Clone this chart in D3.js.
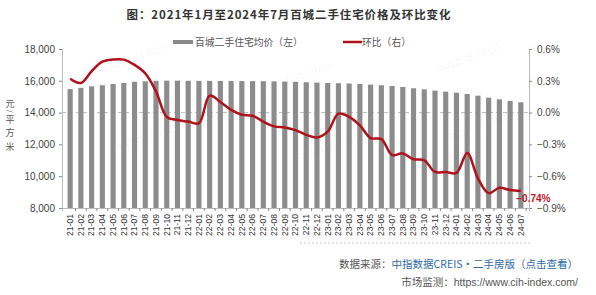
<!DOCTYPE html>
<html>
<head>
<meta charset="utf-8">
<script src="https://cdn.jsdelivr.net/npm/d3@7"></script>
<style>
  body { margin: 0; background: #fff; }
  text { font-family: "Liberation Sans", Arial, "Noto Sans CJK SC", sans-serif; }
  .cn { font-family: "Noto Sans CJK SC", sans-serif; }
</style>
</head>
<body>
<div id="chart"></div>
<script>
// data
var months = ["21-01","21-02","21-03","21-04","21-05","21-06","21-07","21-08","21-09","21-10","21-11","21-12",
              "22-01","22-02","22-03","22-04","22-05","22-06","22-07","22-08","22-09","22-10","22-11","22-12",
              "23-01","23-02","23-03","23-04","23-05","23-06","23-07","23-08","23-09","23-10","23-11","23-12",
              "24-01","24-02","24-03","24-04","24-05","24-06","24-07"];
var prices = [15480,15560,15650,15720,15800,15860,15940,15970,16000,16010,16010,16000,
              15995,15995,15990,15990,15985,15980,15975,15965,15950,15935,15910,15885,
              15860,15845,15830,15800,15760,15720,15675,15610,15530,15465,15380,15315,
              15250,15170,15065,14940,14835,14730,14650];
var mom = [0.32,0.28,0.39,0.48,0.50,0.50,0.45,0.37,0.20,-0.04,-0.07,-0.085,
           -0.10,0.16,0.10,0.025,-0.02,-0.03,-0.085,-0.13,-0.14,-0.165,-0.21,-0.235,
           -0.18,-0.01,-0.04,-0.12,-0.24,-0.25,-0.40,-0.385,-0.44,-0.45,-0.56,-0.56,
           -0.57,-0.38,-0.62,-0.76,-0.71,-0.73,-0.74];
var leftTicks = [8000,10000,12000,14000,16000,18000];
var rightTicks = [-0.9,-0.6,-0.3,0,0.3,0.6];
var unitChars = ["元","/","平","方","米"];

var W = 596, H = 295;
var margin = {top: 49, right: 67, bottom: 87, left: 62},
    width = W - margin.left - margin.right,
    height = H - margin.top - margin.bottom;

var root = d3.select("#chart")
  .append("svg")
    .attr("width", W)
    .attr("height", H);

// watermarks
var marks = [[135,62],[300,80],[470,62],[150,140],[330,150],[480,130],[140,220],[330,235]];
root.selectAll(".wm")
  .data(marks)
  .enter()
  .append("text")
    .attr("class", "cn")
    .attr("transform", function(d) { return "translate(" + d[0] + "," + d[1] + ") rotate(-20)"; })
    .attr("text-anchor", "middle")
    .attr("font-size", "10px")
    .attr("fill", "#000")
    .attr("fill-opacity", 0.05)
    .text("中指数据 CREIS");

// title
root.append("text")
  .attr("class", "cn")
  .attr("x", 289)
  .attr("y", 19)
  .attr("text-anchor", "middle")
  .attr("font-size", "11.5px")
  .attr("font-weight", "bold")
  .attr("letter-spacing", "0.9px")
  .attr("fill", "#333")
  .text("图：2021年1月至2024年7月百城二手住宅价格及环比变化");

// legend
root.append("rect")
  .attr("x", 173).attr("y", 40).attr("width", 20).attr("height", 4)
  .attr("fill", "#8a8a8a");
root.append("text")
  .attr("class", "cn")
  .attr("x", 195).attr("y", 46)
  .attr("font-size", "9.8px")
  .attr("fill", "#555")
  .text("百城二手住宅均价（左）");
root.append("line")
  .attr("x1", 343).attr("x2", 362).attr("y1", 42).attr("y2", 42)
  .attr("stroke", "#b0121b").attr("stroke-width", 2.5);
root.append("text")
  .attr("class", "cn")
  .attr("x", 362).attr("y", 46)
  .attr("font-size", "9.8px")
  .attr("fill", "#555")
  .text("环比（右）");

var svg = root.append("g")
  .attr("transform", "translate(" + margin.left + "," + margin.top + ")");

var x = d3.scaleBand()
  .domain(months)
  .range([0, width])
  .padding(0.52);

var y = d3.scaleLinear()
  .domain([8000, 18000])
  .range([height, 0]);

var y2 = d3.scaleLinear()
  .domain([-0.9, 0.6])
  .range([height, 0]);

// dashed zero line
svg.append("line")
  .attr("x1", 0).attr("x2", width)
  .attr("y1", y2(0)).attr("y2", y2(0))
  .attr("stroke", "#aaa")
  .attr("stroke-dasharray", "4,3")
  .attr("stroke-width", 0.8);

// bars
svg.selectAll(".bar")
  .data(prices)
  .enter()
  .append("rect")
    .attr("class", "bar")
    .attr("x", function(d, i) { return x(months[i]); })
    .attr("y", function(d) { return y(d); })
    .attr("width", x.bandwidth())
    .attr("height", function(d) { return height - y(d); })
    .attr("fill", "#8c8c8c");

// axes
var yAxis = svg.append("g")
  .call(d3.axisLeft(y).tickValues(leftTicks).tickSize(3).tickPadding(4));
var yAxis2 = svg.append("g")
  .attr("transform", "translate(" + width + ",0)")
  .call(d3.axisRight(y2).tickValues(rightTicks).tickSize(3).tickPadding(5)
    .tickFormat(function(d) { return d3.format(".1f")(d) + "%"; }));
var xAxis = svg.append("g")
  .attr("transform", "translate(0," + height + ")")
  .call(d3.axisBottom(x).tickSize(3).tickPadding(3));

[yAxis, yAxis2, xAxis].forEach(function(a) {
  a.select(".domain").attr("stroke", "#bbb");
  a.selectAll(".tick line").attr("stroke", "#888");
  a.selectAll("text").attr("fill", "#444").attr("font-size", "10px");
});
xAxis.selectAll(".tick line").attr("transform", "translate(" + (x.step() / 2) + ",0)");
xAxis.selectAll("text")
  .attr("font-size", "8.6px")
  .attr("fill", "#333")
  .attr("text-anchor", "end")
  .attr("dy", "0.33em")
  .attr("transform", "translate(0,3) rotate(-90)")
  .attr("x", -3)
  .attr("y", 0);

// line
var line = d3.line()
  .x(function(d, i) { return x(months[i]) + x.bandwidth() / 2; })
  .y(function(d) { return y2(d); })
  .curve(d3.curveCatmullRom.alpha(0.5));

svg.append("path")
  .datum(mom)
  .attr("fill", "none")
  .attr("stroke", "#b0121b")
  .attr("stroke-width", 2.5)
  .attr("d", line);

// last value label
var last = mom.length - 1;
svg.append("text")
  .attr("x", x(months[last]) - 2)
  .attr("y", y2(mom[last]) + 11)
  .attr("font-size", "10px")
  .attr("font-weight", "bold")
  .attr("fill", "#c0141e")
  .text(d3.format(".2f")(mom[last]) + "%");

// y axis title, one character per row; the slash is turned sideways
var unitY = [103, 111, 119, 132.5, 146];
root.selectAll(".unit")
  .data(unitChars)
  .enter()
  .append("text")
    .attr("class", "cn unit")
    .attr("transform", function(d, i) {
      return "translate(10," + unitY[i] + ")" + (d === "/" ? " rotate(90)" : "");
    })
    .attr("text-anchor", "middle")
    .attr("dominant-baseline", "central")
    .attr("font-size", function(d) { return d === "/" ? "7px" : "9px"; })
    .attr("fill", "#555")
    .text(function(d) { return d; });

// separator and source
root.append("line")
  .attr("x1", 300).attr("x2", 530).attr("y1", 243).attr("y2", 243)
  .attr("stroke", "#ccc").attr("stroke-dasharray", "2,2");

var src = root.append("text")
  .attr("class", "cn")
  .attr("x", 578).attr("y", 268)
  .attr("text-anchor", "end")
  .attr("font-size", "10.5px");
src.append("tspan").attr("fill", "#555").text("数据来源：");
src.append("tspan").attr("fill", "#2f6aa8").text("中指数据CREIS·二手房版（点击查看）");

var mon = root.append("text")
  .attr("class", "cn")
  .attr("x", 578).attr("y", 286)
  .attr("text-anchor", "end")
  .attr("font-size", "10.5px");
mon.append("tspan").attr("fill", "#555").text("市场监测：");
mon.append("tspan").attr("fill", "#555").attr("font-family", "Liberation Sans, Arial").text("https://www.cih-index.com/");
</script>
</body>
</html>
